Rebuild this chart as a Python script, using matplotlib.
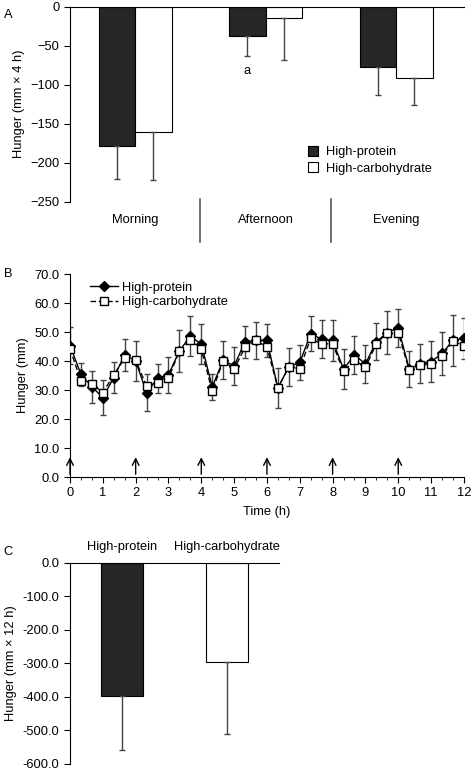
import numpy as np
import matplotlib.pyplot as plt
from matplotlib.ticker import MultipleLocator, FormatStrFormatter

plt.rcParams['font.family'] = ['Liberation Sans', 'DejaVu Sans']
plt.rcParams['font.size'] = 9.3

# Panel A data (mm x 4 h)
periods = ['Morning', 'Afternoon', 'Evening']
a_hp = [-178.6, -37.6, -77.8]
a_hp_err = [42.8, 25.6, 35.4]
a_hc = [-161.1, -14.5, -91.0]
a_hc_err = [61.1, 53.9, 35.5]

# Panel B data (mm), every 20 min
t = np.arange(37) / 3
b_hp = [45.3, 35.4, 31.1, 27.4, 34.3, 42.2, 40.0, 29.1, 34.0, 35.3, 43.5, 48.6, 45.8,
        31.1, 40.3, 38.3, 46.7, 47.1, 47.1, 30.7, 38.0, 39.5, 49.4, 47.5, 47.1, 37.2,
        42.1, 39.0, 46.7, 49.8, 51.5, 37.2, 39.1, 39.8, 42.6, 47.1, 47.8]
b_hc = [44.2, 33.1, 32.2, 29.1, 35.2, 40.9, 40.2, 31.4, 32.5, 34.1, 43.5, 47.1, 44.0,
        29.6, 40.1, 37.2, 44.8, 47.1, 44.8, 30.7, 38.0, 37.4, 47.8, 45.8, 46.0, 36.4,
        40.3, 37.8, 46.0, 49.8, 49.8, 36.9, 38.7, 39.1, 41.8, 46.9, 45.2]
b_err = [6.3, 4.0, 5.5, 6.0, 5.5, 5.5, 6.8, 6.5, 5.0, 6.2, 7.3, 7.0, 7.0,
         4.5, 6.6, 6.5, 5.5, 6.5, 5.8, 6.8, 6.6, 6.0, 6.0, 6.6, 7.2, 7.0,
         6.5, 6.5, 6.4, 7.5, 6.5, 6.3, 6.8, 7.0, 7.4, 8.7, 7.2]
meals = [0, 2, 4, 6, 8, 10]

# Panel C data (mm x 12 h)
diets = ['High-protein', 'High-carbohydrate']
c_val = [-396.4, -297.0]
c_err = [162.0, 213.6]

dark = '#262626'
errc = '#444444'

fig = plt.figure(figsize=(4.74, 7.71), dpi=100)

# ---- A ----
axA = fig.add_axes([0.1477, 0.7384, 0.831, 0.2529])
x = np.arange(len(periods))
w = 0.28
axA.bar(x - w/2, a_hp, w, color=dark, edgecolor='black', linewidth=0.8, label='High-protein')
axA.bar(x + w/2, a_hc, w, color='white', edgecolor='black', linewidth=0.8, label='High-carbohydrate')
axA.errorbar(x - w/2, a_hp, yerr=[a_hp_err, [0]*3], fmt='none', ecolor=errc, elinewidth=1, capsize=2.5)
axA.errorbar(x + w/2, a_hc, yerr=[a_hc_err, [0]*3], fmt='none', ecolor=errc, elinewidth=1, capsize=2.5)
axA.text(1 - w/2, -83, 'a', ha='center', va='center')
axA.set_xlim(-0.5, 2.52)
axA.set_ylim(-250, 0)
axA.yaxis.set_major_locator(MultipleLocator(50))
axA.set_xticks(x)
axA.set_xticklabels(periods)
axA.tick_params(axis='x', length=0, pad=9)
axA.tick_params(axis='y', length=4)
for s in ['right', 'bottom']:
    axA.spines[s].set_visible(False)
for xs in [0.5, 1.5]:
    axA.plot([xs, xs], [-246.5, -301.7], color='#555555', lw=1.2, clip_on=False)
axA.set_ylabel('Hunger (mm × 4 h)', labelpad=4)
axA.legend(loc='upper left', bbox_to_anchor=(0.575, 0.345), frameon=False,
           handlelength=0.8, handleheight=0.8, handletextpad=0.6, labelspacing=0.3)
fig.text(0.008, 0.988, 'A', ha='left', va='top')

# ---- B ----
axB = fig.add_axes([0.1477, 0.3813, 0.831, 0.2633])
axB.errorbar(t, b_hp, yerr=b_err, fmt='none', ecolor=errc, elinewidth=1, capsize=2.2, zorder=1)
axB.plot(t, b_hp, '-', color='black', lw=1, marker='D', ms=5, mfc='black', mec='black',
         label='High-protein', zorder=3)
axB.plot(t, b_hc, '--', color='black', lw=1, marker='s', ms=5.5, mfc='white', mec='black',
         dashes=(4, 2), label='High-carbohydrate', zorder=4)
for m in meals:
    axB.annotate('', xy=(m, 7.8), xytext=(m, 0),
                 arrowprops=dict(arrowstyle='->', color='black', lw=1, mutation_scale=12))
axB.set_xlim(0, 12)
axB.set_ylim(0, 70)
axB.xaxis.set_major_locator(MultipleLocator(1))
axB.xaxis.set_minor_locator(MultipleLocator(1/3))
axB.yaxis.set_major_locator(MultipleLocator(10))
axB.yaxis.set_major_formatter(FormatStrFormatter('%.1f'))
axB.tick_params(axis='both', which='major', length=4)
axB.tick_params(axis='x', which='minor', length=2.5)
for s in ['right', 'top']:
    axB.spines[s].set_visible(False)
axB.set_xlabel('Time (h)', labelpad=5)
axB.set_ylabel('Hunger (mm)', labelpad=4)
axB.legend(loc='upper left', bbox_to_anchor=(0.02, 1.02), frameon=False,
           handlelength=2.2, handletextpad=0.3, labelspacing=0.2)
fig.text(0.008, 0.652, 'B', ha='left', va='top')

# ---- C ----
axC = fig.add_axes([0.1477, 0.0091, 0.441, 0.2611])
xc = np.arange(len(diets))
axC.bar(xc, c_val, 0.4, color=[dark, 'white'], edgecolor='black', linewidth=0.8)
axC.errorbar(xc, c_val, yerr=[c_err, [0, 0]], fmt='none', ecolor=errc, elinewidth=1, capsize=2.5)
axC.set_xlim(-0.5, 1.5)
axC.set_ylim(-600, 0)
axC.yaxis.set_major_locator(MultipleLocator(100))
axC.yaxis.set_major_formatter(FormatStrFormatter('%.1f'))
axC.xaxis.tick_top()
axC.set_xticks(xc)
axC.set_xticklabels(diets)
axC.tick_params(axis='x', length=0, pad=7)
axC.tick_params(axis='y', length=4)
for s in ['right', 'bottom']:
    axC.spines[s].set_visible(False)
axC.set_ylabel('Hunger (mm × 12 h)', labelpad=4)
fig.text(0.008, 0.292, 'C', ha='left', va='top')

fig.savefig('out.png', dpi=100)
